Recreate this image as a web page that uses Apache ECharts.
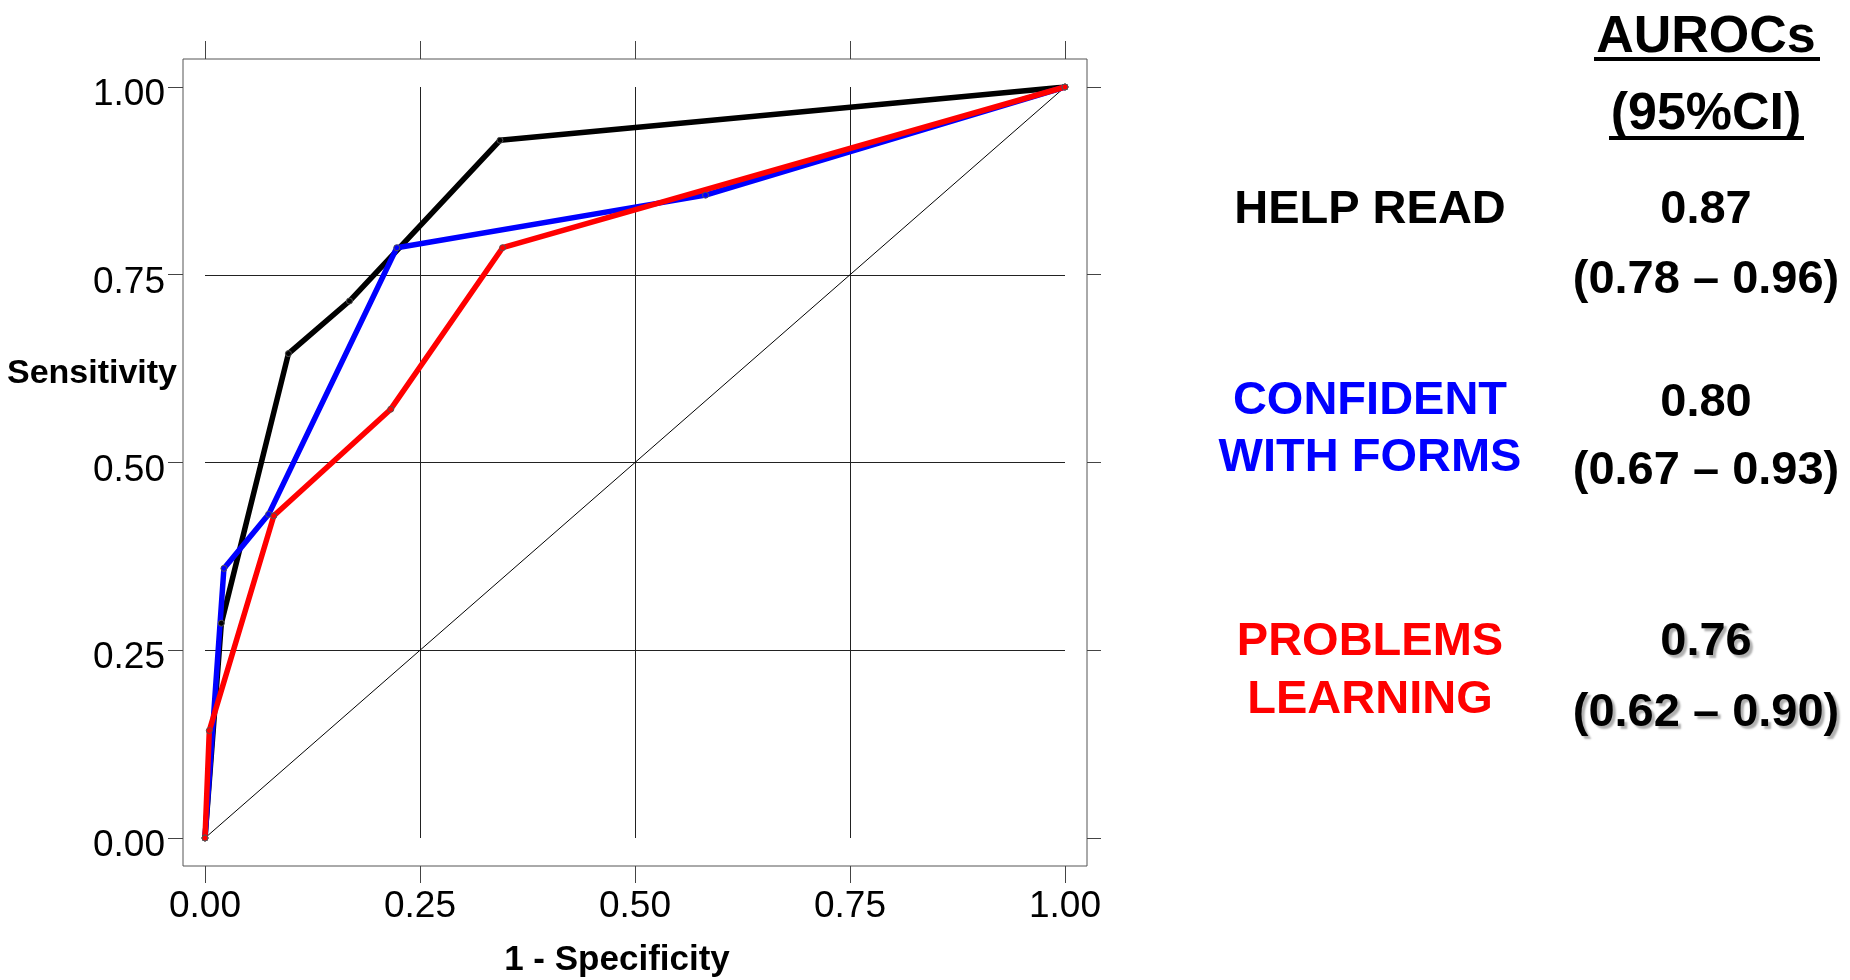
<!DOCTYPE html>
<html>
<head>
<meta charset="utf-8">
<script src="https://cdn.jsdelivr.net/npm/echarts@6/dist/echarts.min.js"></script>
<style>
html,body{margin:0;padding:0;background:#fff;}
#chart{width:1850px;height:980px;}
</style>
</head>
<body>
<div id="chart"></div>
<script>
// ---- data ----
var helpReadFpr = [0, 0.019, 0.097, 0.168, 0.343, 1];
var helpReadTpr = [0, 0.286, 0.645, 0.715, 0.929, 1];
var confidentFpr = [0, 0.022, 0.074, 0.223, 0.582, 1];
var confidentTpr = [0, 0.359, 0.431, 0.786, 0.856, 1];
var problemsFpr = [0, 0.005, 0.080, 0.216, 0.346, 1];
var problemsTpr = [0, 0.143, 0.429, 0.571, 0.786, 1];
var diagonalX = [0, 1];
var diagonalY = [0, 1];
var tickValues = [0, 0.25, 0.5, 0.75, 1];
var seriesNames = ['HELP READ', 'CONFIDENT WITH FORMS', 'PROBLEMS LEARNING'];
var labelLines = [['HELP READ'], ['CONFIDENT', 'WITH FORMS'], ['PROBLEMS', 'LEARNING']];
var aurocValues = ['0.87', '0.80', '0.76'];
var ciTexts = ['(0.78 \u2013 0.96)', '(0.67 \u2013 0.93)', '(0.62 \u2013 0.90)'];
var headerLines = ['AUROCs', '(95%CI)'];
var xAxisTitle = '1 - Specificity';
var yAxisTitle = 'Sensitivity';

function pairs(xs, ys) { return xs.map(function (x, i) { return [x, ys[i]]; }); }

var colors = ['#000000', '#0000ff', '#ff0000'];
var armFont = "'Liberation Sans', Arial, sans-serif";

var chart = echarts.init(document.getElementById('chart'), null, {renderer: 'canvas'});

// layout (pixels)
var DATA_LEFT = 205, DATA_TOP = 87, DATA_W = 860, DATA_H = 751;
var PAD_X = 22, PAD_Y = 28;
var BOX_LEFT = DATA_LEFT - PAD_X, BOX_TOP = DATA_TOP - PAD_Y, BOX_W = DATA_W + 2 * PAD_X, BOX_H = DATA_H + 2 * PAD_Y;
var extX = PAD_X / DATA_W, extY = PAD_Y / DATA_H;

var labelFont = {fontFamily: armFont, fontSize: 37, color: '#000'};
var tickLine = {color: '#444', width: 1};
var hiddenLine = {show: false, onZero: false};
function fmt(v) { return (Math.round(v * 100) / 100).toFixed(2); }

function mkSeries(name, xs, ys, color, width) {
  return {
    name: name, type: 'line', xAxisIndex: 0, yAxisIndex: 0,
    data: pairs(xs, ys),
    lineStyle: {color: color, width: width},
    symbol: 'circle', symbolSize: 6,
    itemStyle: {color: color, borderColor: '#555', borderWidth: 1},
    z: 3
  };
}

// right panel
var graphics = [];
var valueX = 1706, labelX = 1370;
var headerY = [38, 115];
var underlineY = [59, 138];
var underlineSpan = [[1594, 1820], [1609, 1804]];
headerLines.forEach(function (t, i) {
  graphics.push({type: 'text', x: valueX, y: headerY[i], style: {text: t, fill: '#000', font: 'bold 52px ' + armFont, align: 'center', verticalAlign: 'middle'}});
  graphics.push({type: 'line', shape: {x1: underlineSpan[i][0], y1: underlineY[i], x2: underlineSpan[i][1], y2: underlineY[i]}, style: {stroke: '#000', lineWidth: 4}});
});
var labelY = [[210], [401, 458], [642, 700]];
var valueY = [210, 403, 642];
var ciY = [280, 471, 713];
labelLines.forEach(function (lines, i) {
  lines.forEach(function (t, j) {
    graphics.push({type: 'text', x: labelX, y: labelY[i][j], style: {text: t, fill: colors[i], font: 'bold 47px ' + armFont, align: 'center', verticalAlign: 'middle'}});
  });
  var shadow = i === 2 ? {textShadowColor: '#b0b0b0', textShadowOffsetX: 3, textShadowOffsetY: 3, textShadowBlur: 2} : {};
  graphics.push({type: 'text', x: valueX, y: valueY[i], style: Object.assign({text: aurocValues[i], fill: '#000', font: 'bold 47px ' + armFont, align: 'center', verticalAlign: 'middle'}, shadow)});
  graphics.push({type: 'text', x: valueX, y: ciY[i], style: Object.assign({text: ciTexts[i], fill: '#000', font: 'bold 47px ' + armFont, align: 'center', verticalAlign: 'middle'}, shadow)});
});
// axis titles
graphics.push({type: 'text', x: 92, y: 374, style: {text: yAxisTitle, fill: '#000', font: 'bold 34px ' + armFont, align: 'center', verticalAlign: 'middle'}});
graphics.push({type: 'text', x: 617, y: 960, style: {text: xAxisTitle, fill: '#000', font: 'bold 35px ' + armFont, align: 'center', verticalAlign: 'middle'}});

var option = {
  animation: false,
  backgroundColor: '#fff',
  grid: [
    {left: DATA_LEFT, top: DATA_TOP, width: DATA_W, height: DATA_H, containLabel: false},
    {left: BOX_LEFT, top: BOX_TOP, width: BOX_W, height: BOX_H, show: true, borderColor: '#555', borderWidth: 1, backgroundColor: 'transparent', containLabel: false}
  ],
  xAxis: [
    {type: 'value', gridIndex: 0, min: 0, max: 1, interval: 0.25,
     axisLine: hiddenLine, axisTick: {show: false}, axisLabel: {show: false},
     splitLine: {show: true, showMinLine: false, showMaxLine: false, lineStyle: {color: '#222', width: 1}}},
    {type: 'value', gridIndex: 1, position: 'bottom', min: -extX, max: 1 + extX,
     axisLine: hiddenLine,
     axisTick: {show: true, inside: false, length: 17, customValues: tickValues, lineStyle: tickLine},
     axisLabel: Object.assign({margin: 22, customValues: tickValues, formatter: fmt}, labelFont),
     splitLine: {show: false}},
    {type: 'value', gridIndex: 1, position: 'top', min: -extX, max: 1 + extX,
     axisLine: hiddenLine,
     axisTick: {show: true, inside: false, length: 18, customValues: tickValues, lineStyle: tickLine},
     axisLabel: {show: false}, splitLine: {show: false}}
  ],
  yAxis: [
    {type: 'value', gridIndex: 0, min: 0, max: 1, interval: 0.25,
     axisLine: hiddenLine, axisTick: {show: false}, axisLabel: {show: false},
     splitLine: {show: true, showMinLine: false, showMaxLine: false, lineStyle: {color: '#222', width: 1}}},
    {type: 'value', gridIndex: 1, position: 'left', min: -extY, max: 1 + extY,
     axisLine: hiddenLine,
     axisTick: {show: true, inside: false, length: 15, customValues: tickValues, lineStyle: tickLine},
     axisLabel: {margin: 18, customValues: tickValues,
       formatter: function (v) { return '{s|}\n{v|' + fmt(v) + '}'; },
       rich: {s: {lineHeight: 16, fontSize: 10}, v: Object.assign({lineHeight: 40}, labelFont)}},
     splitLine: {show: false}},
    {type: 'value', gridIndex: 1, position: 'right', min: -extY, max: 1 + extY,
     axisLine: hiddenLine,
     axisTick: {show: true, inside: false, length: 14, customValues: tickValues, lineStyle: tickLine},
     axisLabel: {show: false}, splitLine: {show: false}}
  ],
  series: [
    {name: 'reference', type: 'line', xAxisIndex: 0, yAxisIndex: 0, data: pairs(diagonalX, diagonalY),
     symbol: 'none', lineStyle: {color: '#000', width: 1}, z: 2},
    mkSeries(seriesNames[0], helpReadFpr, helpReadTpr, colors[0], 5.5),
    mkSeries(seriesNames[1], confidentFpr, confidentTpr, colors[1], 5.5),
    mkSeries(seriesNames[2], problemsFpr, problemsTpr, colors[2], 5.5)
  ],
  graphic: graphics
};
chart.setOption(option);
</script>
</body>
</html>
